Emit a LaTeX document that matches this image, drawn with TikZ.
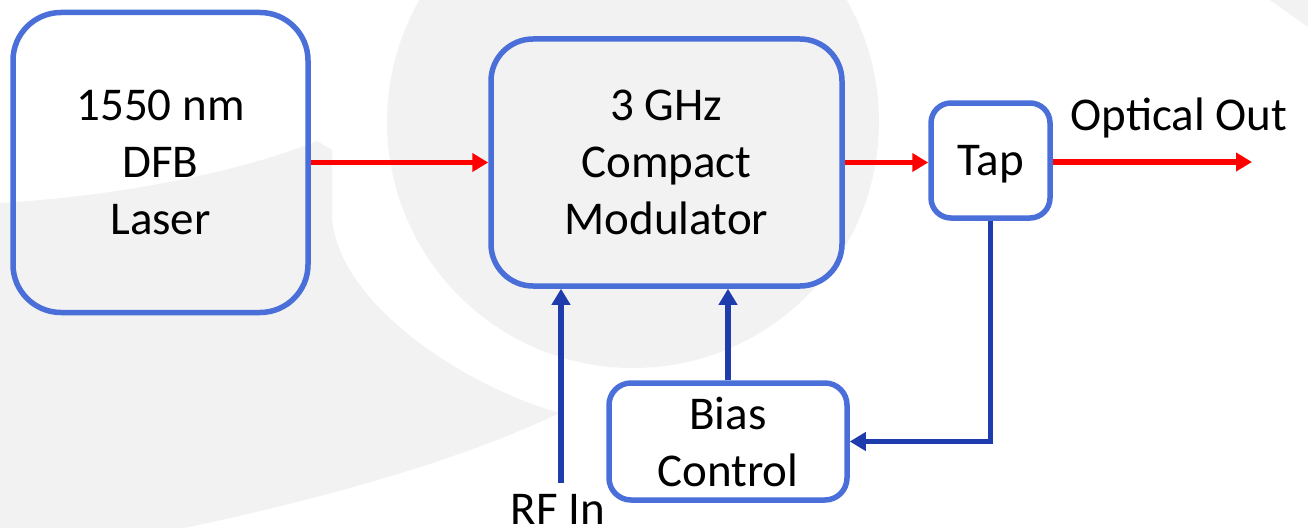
\documentclass[tikz,border=0pt]{standalone}
\usepackage{fontspec}
\setmainfont{Carlito}
\usetikzlibrary{arrows.meta}
\definecolor{boxblue}{RGB}{74,111,216}
\definecolor{sigblue}{RGB}{30,60,172}
\definecolor{optred}{RGB}{255,0,0}
\definecolor{wmgray}{RGB}{242,242,242}

\begin{document}
\begin{tikzpicture}[x=1pt,y=-1pt,
  block/.style={draw=boxblue, line width=5.5pt, inner sep=0pt, align=center,
    font=\fontsize{47}{57}\selectfont},
  txt/.style={inner sep=0pt, font=\fontsize{47}{57}\selectfont},
  optical/.style={draw=optred, line width=5.5pt, -{Triangle[length=16pt,width=18pt]}},
  electric/.style={draw=sigblue, line width=5.5pt, -{Triangle[length=16pt,width=18pt]}}]

\useasboundingbox (0,0) rectangle (1308,527);

% light watermark shapes behind the diagram
\begin{scope}
  \clip (0,0) rectangle (1308,527);
  \fill[wmgray] (633,122) circle[radius=246pt];
  \fill[wmgray] (0,203) .. controls (120,196) and (240,172) .. (317,141)
    -- (332,150) -- (332,215)
    .. controls (335,300) and (460,385) .. (560,413)
    .. controls (450,465) and (300,505) .. (150,535)
    -- (0,540) -- cycle;
  \fill[wmgray] (1270,0) -- (1308,0) -- (1308,27) -- cycle;
\end{scope}

% blocks
\node[block, minimum width=295pt, minimum height=300pt, rounded corners=48pt]
  (laser) at (160.5,162.5) {1550 nm\\DFB\\Laser};
\node[block, minimum width=351pt, minimum height=247pt, rounded corners=42pt]
  (mod) at (666.5,162.5) {3 GHz\\Compact\\Modulator};
\node[block, minimum width=119pt, minimum height=115pt, rounded corners=20pt,
  text depth=0pt] (tap) at (990.5,160.5) {Tap};
\node[block, minimum width=238pt, minimum height=117pt, rounded corners=22pt]
  (bias) at (728,441.5) {Bias\\Control};

% free labels
\node[txt, anchor=base] (outlbl) at (1179,130) {Optical Out};
\node[txt, anchor=base] (rflbl) at (558,524.5) {RF In};

% free ends of connectors
\coordinate (optout) at (1252,162);
\coordinate (rfin) at (561,483);

% optical path
\draw[optical] (laser.east) -- (mod.west);
\draw[optical] (mod.east) -- (mod.east -| tap.west);
\draw[optical] (tap.east |- optout) -- (optout);

% electrical path
\draw[electric] (rfin) -- (rfin |- mod.south);
\draw[electric] (bias.north) -- (bias.north |- mod.south);
\draw[electric] (tap.south) -- (tap.south |- bias.east) -- (bias.east);
\end{tikzpicture}
\end{document}
